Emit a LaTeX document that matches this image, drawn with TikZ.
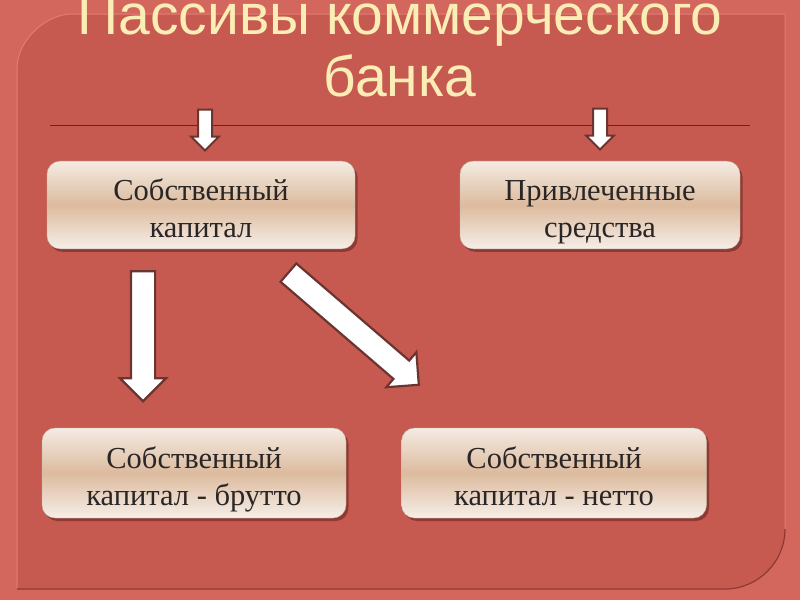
\documentclass[tikz,border=0pt]{standalone}
\usepackage{fontspec}
\setmainfont{Liberation Serif}
\newfontfamily\titlefont{Liberation Sans}
\usetikzlibrary{shapes.arrows, shadows, calc}

\definecolor{outerred}{HTML}{D3675D}
\definecolor{panelred}{HTML}{C75A50}
\definecolor{panelhi}{HTML}{E27C71}
\definecolor{panello}{HTML}{8E3A33}
\definecolor{titlecream}{HTML}{FAEDB6}
\definecolor{arrowbrown}{HTML}{6A3530}
\definecolor{boxtop}{HTML}{F4EBE2}
\definecolor{boxmid}{HTML}{DCBB9E}
\definecolor{boxbot}{HTML}{F6EEE8}
\definecolor{boxtext}{HTML}{2A2626}

\begin{document}
\begin{tikzpicture}[
  x=1pt, y=-1pt,
  box/.style = {rounded corners=13pt, top color=boxtop, bottom color=boxbot, middle color=boxmid,
                draw=boxmid!70!black!60, line width=0.4pt, minimum height=86pt, align=center,
                font=\fontsize{30.5}{37}\selectfont, text=boxtext,
                execute at begin node={\rule{0pt}{73pt}}, execute at end node={\rule[-8pt]{0pt}{8pt}},
                drop shadow={shadow xshift=2.5pt, shadow yshift=-3pt, fill=panello, opacity=1}},
  smallarrow/.style = {single arrow, draw=arrowbrown, fill=white, line width=2pt,
                       inner sep=0pt, inner ysep=6pt, single arrow head extend=7pt,
                       minimum height=41pt},
  bigarrow/.style = {single arrow, draw=arrowbrown, fill=white, line width=2.2pt,
                     inner sep=0pt, inner ysep=11pt, single arrow head extend=11pt}
]

  % Slide background
  \useasboundingbox (0,0) rectangle (800,600);
  \fill[outerred] (0,0) rectangle (800,600);
  \fill[panelred] (17,589) -- (17,69) .. controls (17,39) and (47,14) .. (72,14)
    -- (785,14) -- (785,529) .. controls (785,562) and (758,589) .. (725,589) -- cycle;
  \draw[panelhi, line width=1pt] (17,589) -- (17,69) .. controls (17,39) and (47,14) .. (72,14)
    -- (785,14) -- (785,529);
  \draw[panello, line width=1.2pt] (785,529) .. controls (785,562) and (758,589) .. (725,589)
    -- (17,589);

  % Title
  \node[text=titlecream, font=\titlefont\fontsize{57}{62}\selectfont, align=center]
    (title) at (400,46) {Пассивы коммерческого\\банка};

  % Rule under the title
  \coordinate (ruleL) at (50,125);
  \coordinate (ruleR) at (750,125);
  \draw[arrowbrown!80!black, line width=1pt] (ruleL) -- (ruleR);

  % Upper boxes
  \node[box, minimum width=308pt] (own) at (201,205) {Собственный\\капитал};
  \node[box, minimum width=280pt] (raised) at (600,205) {Привлеченные\\средства};

  % Lower boxes
  \node[box, minimum width=304pt, minimum height=90pt] (gross) at (194,473) {Собственный\\капитал - брутто};
  \node[box, minimum width=305pt, minimum height=90pt] (net) at (554,473) {Собственный\\капитал - нетто};

  % Small arrows from the rule to the upper boxes
  \node[smallarrow, rotate=-90, anchor=tip] (toOwn) at ($(own.north)+(4,-9)$) {};
  \node[smallarrow, rotate=-90, anchor=tip] (toRaised) at ($(raised.north)+(0,-10)$) {};

  % Big arrows to the lower boxes
  \node[bigarrow, minimum height=130pt, rotate=-90, anchor=tip] (toGross) at ($(gross.north)+(-51,-25)$) {};
  \node[bigarrow, minimum height=172pt, rotate=-40.7, anchor=tip] (toNet) at ($(net.north)+(-134,-42)$) {};

\end{tikzpicture}
\end{document}
